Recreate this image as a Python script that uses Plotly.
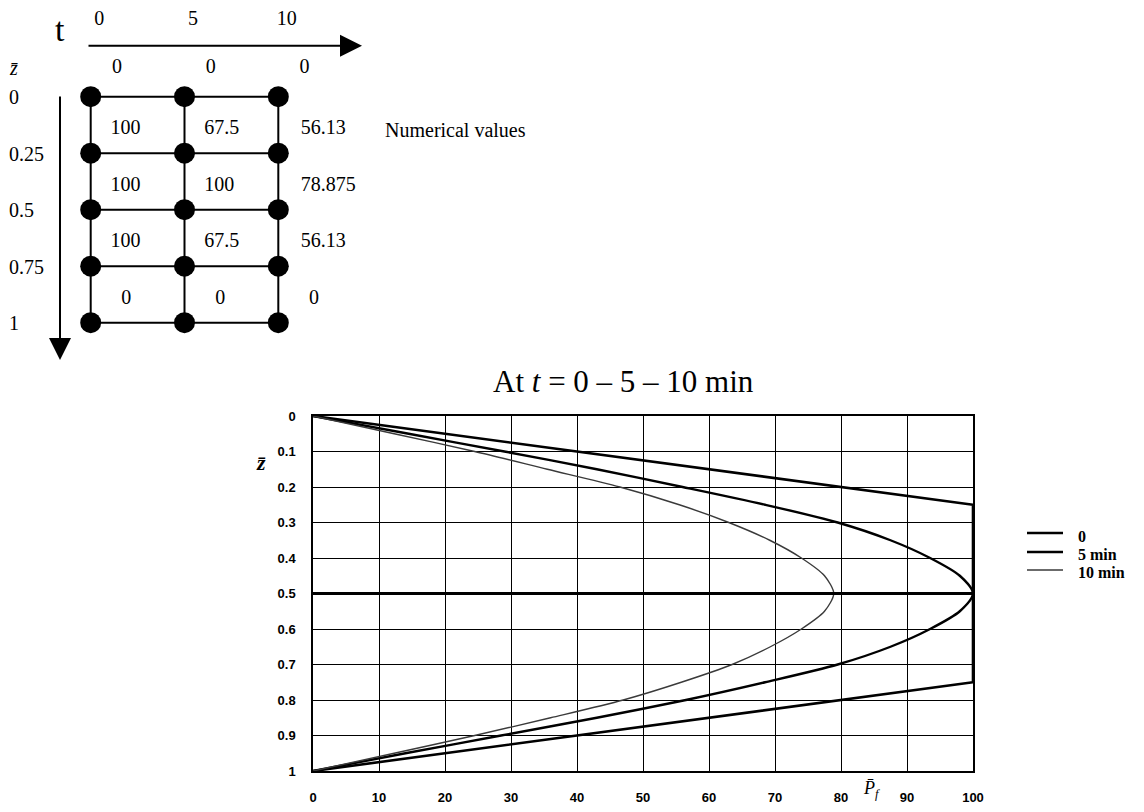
import plotly.graph_objects as go

# ---------------- data ----------------
# node-grid diagram (top left)
GRID_T = [0, 5, 10]
GRID_Z = [0, 0.25, 0.5, 0.75, 1]
T_LABELS = ["0", "5", "10"]
Z_LABELS = ["0", "0.25", "0.5", "0.75", "1"]
TOP_BOUNDARY = ["0", "0", "0"]
CELLS_T0 = ["100", "100", "100"]
CELLS_T5 = ["67.5", "100", "67.5"]
CELLS_T10 = ["56.13", "78.875", "56.13"]
BOTTOM_ROW = ["0", "0", "0"]

# profile chart
Z_PROFILE = [0, 0.05, 0.1, 0.15, 0.2, 0.25, 0.3, 0.35, 0.4, 0.45, 0.5,
             0.55, 0.6, 0.65, 0.7, 0.75, 0.8, 0.85, 0.9, 0.95, 1]
P_T5 = [0, 14.5, 29, 43, 56, 68.5, 79.5, 87.5, 93.5, 98, 100,
        98, 93.5, 87.5, 79.5, 68.5, 56.5, 43, 28.5, 14, 0]
P_T10 = [0, 12.3, 24.5, 35.5, 46.5, 55.5, 63, 69.2, 74, 77.5, 78.9,
         77.5, 74, 69.3, 63.5, 55.8, 47, 36, 24.5, 12.3, 0]
Z_T0 = [0, 0.25, 0.75, 1]
P_T0 = [0, 100, 100, 0]
SERIES_NAMES = ["0", "5 min", "10 min"]
MID_Z = 0.5
X_TICKS = list(range(0, 101, 10))
Y_TICKS = [round(0.1 * i, 1) for i in range(11)]

# ---------------- styling ----------------
OFF = 8                       # page body margin
W, H = 1144 - 2 * OFF, 812 - 2 * OFF
SERIF = "Liberation Serif, Times New Roman, serif"
NARROW = "Liberation Sans Narrow, Arial Narrow, Liberation Sans, sans-serif"
STYLES = [dict(color="black", width=2.6),
          dict(color="black", width=2.4),
          dict(color="#3a3a3a", width=1.4)]


def P(px):  # page px -> paper x
    return (px - OFF) / W


def Q(py):  # page px -> paper y
    return 1 - (py - OFF) / H


fig = go.Figure()

# ---- main chart ----
fig.add_trace(go.Scatter(x=P_T0, y=Z_T0, mode="lines", line=STYLES[0],
                         name=SERIES_NAMES[0], showlegend=False))
fig.add_trace(go.Scatter(x=P_T5, y=Z_PROFILE, mode="lines",
                         line=dict(**STYLES[1], shape="spline", smoothing=0.8),
                         name=SERIES_NAMES[1], showlegend=False))
fig.add_trace(go.Scatter(x=P_T10, y=Z_PROFILE, mode="lines",
                         line=dict(**STYLES[2], shape="spline", smoothing=0.8),
                         name=SERIES_NAMES[2], showlegend=False))

# ---- diagram (secondary axes) ----
# page px mapping: x = 90.7 + 18.76*t ; y = 96.7 + 226*z
DX0, DXS = 90.7, 18.76
DY0, DYS = 96.7, 226.0


def tx(px):
    return (px - DX0) / DXS


def tz(py):
    return (py - DY0) / DYS


xr = [tx(OFF), tx(572)]
yr = [tz(400), tz(OFF)]

for z in GRID_Z:
    fig.add_trace(go.Scatter(x=[GRID_T[0], GRID_T[-1]], y=[z, z], mode="lines",
                             line=dict(color="black", width=2), xaxis="x2", yaxis="y2",
                             showlegend=False, hoverinfo="skip"))
for t in GRID_T:
    fig.add_trace(go.Scatter(x=[t, t], y=[GRID_Z[0], GRID_Z[-1]], mode="lines",
                             line=dict(color="black", width=2), xaxis="x2", yaxis="y2",
                             showlegend=False, hoverinfo="skip"))
fig.add_trace(go.Scatter(x=[t for z in GRID_Z for t in GRID_T],
                         y=[z for z in GRID_Z for t in GRID_T],
                         mode="markers", marker=dict(color="black", size=21),
                         xaxis="x2", yaxis="y2", showlegend=False, hoverinfo="skip"))

DFONT = dict(family=SERIF, size=20, color="black")
fig.add_trace(go.Scatter(x=[t + 1.4 for t in GRID_T], y=[tz(68)] * 3, text=TOP_BOUNDARY,
                         mode="text", textfont=DFONT, xaxis="x2", yaxis="y2",
                         showlegend=False, hoverinfo="skip"))
row_z = [(GRID_Z[i] + GRID_Z[i + 1]) / 2 + 0.018 for i in range(3)]
for t, vals, off in zip(GRID_T, [CELLS_T0, CELLS_T5, CELLS_T10], [1.05, 1.05, 1.2]):
    fig.add_trace(go.Scatter(x=[t + off] * 3, y=row_z, text=vals, mode="text",
                             textposition="middle right", textfont=DFONT,
                             xaxis="x2", yaxis="y2", showlegend=False, hoverinfo="skip"))
fig.add_trace(go.Scatter(x=[t + 1.9 for t in GRID_T], y=[(GRID_Z[3] + GRID_Z[4]) / 2 + 0.018] * 3,
                         text=BOTTOM_ROW, mode="text", textfont=DFONT,
                         xaxis="x2", yaxis="y2", showlegend=False, hoverinfo="skip"))
fig.add_trace(go.Scatter(x=[t + 0.45 for t in GRID_T], y=[tz(20)] * 3, text=T_LABELS,
                         mode="text", textfont=DFONT, xaxis="x2", yaxis="y2",
                         showlegend=False, hoverinfo="skip"))
fig.add_trace(go.Scatter(x=[tx(9)] * 5, y=[z + 0.012 for z in GRID_Z], text=Z_LABELS,
                         mode="text", textposition="middle right", textfont=DFONT,
                         xaxis="x2", yaxis="y2", showlegend=False, hoverinfo="skip"))

annotations = []
annotations.append(dict(x=tx(362), y=tz(45.7), ax=tx(87), ay=tz(45.7), xref="x2", yref="y2",
                        axref="x2", ayref="y2", text="", showarrow=True, arrowhead=2,
                        arrowsize=2.2, arrowwidth=2, arrowcolor="black"))
annotations.append(dict(x=tx(60), y=tz(360), ax=tx(60), ay=tz(95), xref="x2", yref="y2",
                        axref="x2", ayref="y2", text="", showarrow=True, arrowhead=2,
                        arrowsize=2.2, arrowwidth=2, arrowcolor="black"))
annotations.append(dict(x=tx(60), y=tz(29), xref="x2", yref="y2", text="t", showarrow=False,
                        xanchor="center", yanchor="middle",
                        font=dict(family=SERIF, size=34, color="black")))
annotations.append(dict(x=tx(13), y=tz(68), xref="x2", yref="y2", text="<i>z̄</i>", showarrow=False,
                        xanchor="center", yanchor="middle",
                        font=dict(family=SERIF, size=20, color="black")))
annotations.append(dict(x=P(455), y=Q(130), xref="paper", yref="paper",
                        text="Numerical values", showarrow=False,
                        xanchor="center", yanchor="middle",
                        font=dict(family=SERIF, size=20, color="black")))
annotations.append(dict(x=P(623), y=Q(381), xref="paper", yref="paper",
                        text="At <i>t</i> = 0 – 5 – 10 min", showarrow=False,
                        xanchor="center", yanchor="middle",
                        font=dict(family=SERIF, size=31, color="black")))
annotations.append(dict(x=P(261), y=Q(462), xref="paper", yref="paper",
                        text="<b><i>z̄</i></b>", showarrow=False,
                        xanchor="center", yanchor="middle",
                        font=dict(family=SERIF, size=22, color="black")))
annotations.append(dict(x=P(871), y=Q(789), xref="paper", yref="paper",
                        text="<i>P̄</i><sub><i>f</i></sub>", showarrow=False,
                        xanchor="center", yanchor="middle",
                        font=dict(family=SERIF, size=18, color="black")))

shapes = [dict(type="line", xref="x domain", yref="y", x0=0, x1=1, y0=MID_Z, y1=MID_Z,
               layer="above", line=dict(color="black", width=3))]
leg_line_y = [533, 552, 570]
leg_text_y = [536, 554, 572]
for name, st, ly, ty in zip(SERIES_NAMES, STYLES, leg_line_y, leg_text_y):
    shapes.append(dict(type="line", xref="paper", yref="paper",
                       x0=P(1027), x1=P(1063), y0=Q(ly), y1=Q(ly),
                       line=dict(color=st["color"], width=st["width"])))
    annotations.append(dict(x=P(1076), y=Q(ty), xref="paper", yref="paper",
                            text="<b>" + name + "</b>", showarrow=False,
                            xanchor="left", yanchor="middle",
                            font=dict(family=SERIF, size=16, color="black")))

fig.update_layout(
    width=W, height=H, autosize=False,
    margin=dict(l=0, r=0, t=0, b=0, pad=0, autoexpand=False),
    paper_bgcolor="white", plot_bgcolor="white",
    showlegend=False,
    xaxis=dict(domain=[P(313), P(973)], range=[0, 100], tickvals=X_TICKS,
               showgrid=True, gridcolor="black", gridwidth=1,
               showline=True, linecolor="black", linewidth=1.5, mirror=True,
               zeroline=False, ticks="", ticklabelstandoff=14, automargin=False,
               tickfont=dict(family=NARROW, size=13, color="black", weight="bold")),
    yaxis=dict(domain=[Q(771), Q(416)], range=[1, 0], tickvals=Y_TICKS,
               showgrid=True, gridcolor="black", gridwidth=1,
               showline=True, linecolor="black", linewidth=1.5, mirror=True,
               zeroline=False, ticks="", ticklabelstandoff=13, automargin=False,
               tickfont=dict(family=NARROW, size=13, color="black", weight="bold")),
    xaxis2=dict(domain=[0, P(572)], range=xr, visible=False, anchor="y2"),
    yaxis2=dict(domain=[Q(400), 1], range=yr, visible=False, anchor="x2"),
    annotations=annotations,
    shapes=shapes,
)

fig.write_html("out.html")
